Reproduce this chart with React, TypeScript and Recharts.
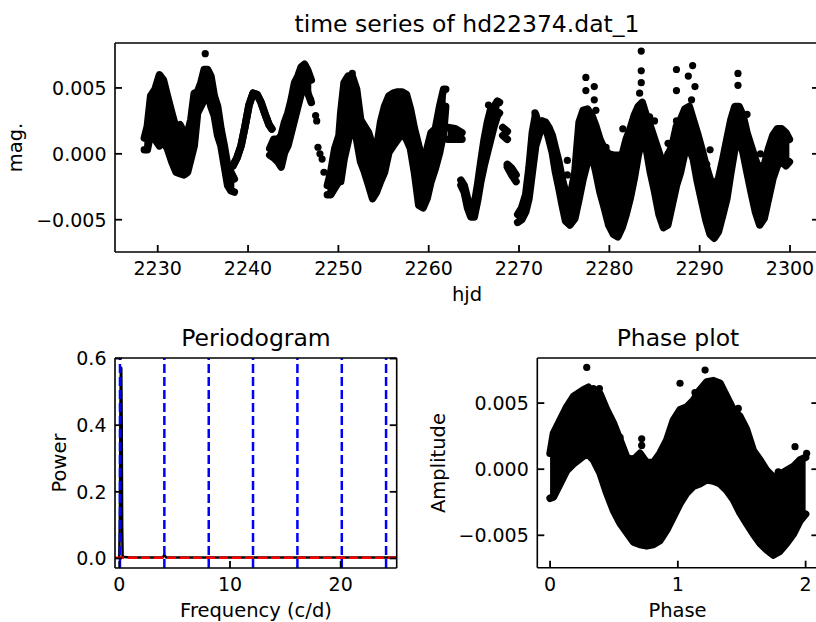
import React from 'react'
import {
  ComposedChart,
  XAxis,
  YAxis,
  Area,
  Scatter,
  Line,
  ReferenceLine,
} from 'recharts'

// [hjd, lower mag, upper mag] read along each run of the light curve
type Band = [number, number, number]
type Pt = [number, number]

const runA: Band[] = [
  [2228.52, 0.0003, 0.0012], [2228.85, 0.0003, 0.0021], [2229.22, 0.0016, 0.0044],
  [2229.7, 0.0011, 0.0049], [2230.19, 0.0006, 0.006], [2230.63, 0.0009, 0.0056],
  [2231.07, 0.0004, 0.0044], [2231.56, -0.0006, 0.0031], [2232.04, -0.0014, 0.0019],
  [2232.48, -0.0015, 0.0022], [2232.93, -0.0016, 0.0014], [2233.3, -0.0014, 0.0016],
  [2233.67, -0.0004, 0.0026], [2234.04, 0.0006, 0.0046], [2234.41, 0.0031, 0.0047],
  [2234.78, 0.0036, 0.0054], [2235.15, 0.0041, 0.0064], [2235.52, 0.0046, 0.0064],
  [2235.89, 0.0036, 0.0059], [2236.26, 0.0029, 0.0044], [2236.63, 0.0014, 0.0036],
  [2237.0, 0.0006, 0.0019], [2237.37, -0.0009, 0.0006], [2237.74, -0.0024, -0.0009],
  [2238.1, -0.0028, -0.0014], [2238.48, -0.0029, -0.0019],
]
const runB: Band[] = [
  [2238.33, -0.0009, -0.0009], [2238.78, -0.0003, -0.0003], [2239.22, 0.0006, 0.0006],
  [2239.67, 0.0021, 0.0021], [2240.11, 0.0037, 0.0037], [2240.56, 0.0046, 0.0046],
  [2241.0, 0.0045, 0.0045], [2241.44, 0.0039, 0.0039], [2241.89, 0.003, 0.003],
  [2242.33, 0.0022, 0.0022], [2242.63, 0.0019, 0.0019],
]
const runC: Band[] = [
  [2242.4, -0.0001, 0.0004], [2242.85, -0.0003, 0.0011], [2243.3, -0.0006, 0.0011],
  [2243.67, -0.001, 0.0014], [2244.04, 0.0001, 0.0024], [2244.41, 0.0006, 0.0031],
  [2244.78, 0.0016, 0.0041], [2245.15, 0.0026, 0.0054], [2245.52, 0.0036, 0.0059],
  [2245.89, 0.0046, 0.0066], [2246.26, 0.0054, 0.0068], [2246.63, 0.0046, 0.0063],
  [2247.0, 0.0039, 0.0056],
]
const runD: Band[] = [
  [2248.78, -0.0031, -0.0024], [2249.15, -0.0031, -0.0014], [2249.6, -0.0026, 0.0004],
  [2250.07, -0.0021, 0.0014], [2250.26, -0.0021, 0.0031], [2250.63, -0.0004, 0.0054],
  [2251.07, 0.0009, 0.0059], [2251.54, 0.0024, 0.0059], [2252.02, 0.0011, 0.0049],
  [2252.46, -0.0006, 0.0026], [2252.9, -0.0014, 0.0021], [2253.35, -0.0024, 0.0016],
  [2253.79, -0.0034, 0.0006], [2254.23, -0.0029, 0.0004], [2254.67, -0.0021, 0.0024],
  [2255.11, -0.0014, 0.0036], [2255.59, 0.0001, 0.0044], [2256.07, 0.0006, 0.0046],
  [2256.58, 0.0011, 0.0047], [2257.06, 0.0016, 0.0047], [2257.54, 0.0011, 0.0045],
  [2257.98, 0.0004, 0.0034], [2258.42, -0.0014, 0.0019], [2258.9, -0.0039, 0.0006],
  [2259.38, -0.0041, -0.0009], [2259.82, -0.0034, 0.0004], [2260.26, -0.0021, 0.0016],
  [2260.74, -0.0011, 0.0019], [2261.21, 0.0001, 0.0036], [2261.65, 0.0016, 0.0049],
  [2261.88, 0.0036, 0.0049],
]
const runE: Band[] = [
  [2262.1, 0.0011, 0.002], [2262.94, 0.0011, 0.0019], [2263.68, 0.0011, 0.0016],
]
const runF: Band[] = [
  [2263.57, -0.0024, -0.002], [2263.93, -0.0029, -0.0024], [2264.3, -0.0041, -0.0034],
  [2264.67, -0.0048, -0.0041], [2265.04, -0.0048, -0.0039], [2265.4, -0.0036, -0.0024],
  [2265.77, -0.0021, -0.0006], [2266.14, -0.0009, 0.0011], [2266.5, 0.0001, 0.0024],
  [2266.87, 0.0011, 0.0034], [2267.24, 0.0021, 0.0036], [2267.61, 0.0029, 0.004],
  [2267.83, 0.0031, 0.0039],
]
const runG: Band[] = [[2268.2, 0.0014, 0.002], [2268.7, 0.0011, 0.0017]]
const runH: Band[] = [[2268.71, -0.001, -0.0008], [2269.19, -0.0016, -0.0011], [2269.67, -0.0021, -0.0016]]
const runI: Band[] = [
  [2269.85, -0.0052, -0.0046], [2270.29, -0.005, -0.0041], [2270.74, -0.0044, -0.0031],
  [2271.1, -0.0034, -0.0011], [2271.47, -0.0014, 0.0016], [2271.84, 0.0006, 0.003],
  [2272.2, 0.0014, 0.0021], [2272.57, 0.0021, 0.0025], [2272.94, 0.002, 0.0024],
  [2273.31, 0.0011, 0.002], [2273.68, 0.0001, 0.0014], [2274.04, -0.0014, 0.0004],
  [2274.41, -0.0026, -0.0006], [2274.78, -0.0039, -0.0019], [2275.15, -0.0051, -0.0029],
  [2275.63, -0.0054, -0.0034], [2276.18, -0.0049, -0.0014], [2276.65, -0.0034, 0.0024],
  [2277.1, -0.0019, 0.0033], [2277.58, -0.0006, 0.0034], [2278.07, -0.0001, 0.0029],
  [2278.51, -0.0014, 0.0021], [2278.96, -0.0029, 0.0011], [2279.44, -0.0041, 0.0004],
  [2279.93, -0.0054, 0.0], [2280.45, -0.0061, -0.0001], [2280.93, -0.0063, -0.0001],
  [2281.41, -0.0056, -0.0001], [2281.86, -0.0046, 0.0011], [2282.3, -0.0034, 0.0019],
  [2282.75, -0.0019, 0.0029], [2283.2, -0.0001, 0.0036], [2283.64, 0.0011, 0.0039],
  [2284.09, 0.0004, 0.0029], [2284.54, -0.0014, 0.0021], [2285.02, -0.0029, 0.0011],
  [2285.5, -0.0046, 0.0001], [2285.99, -0.0056, -0.0009], [2286.47, -0.0054, -0.0001],
  [2286.95, -0.0039, 0.0006], [2287.43, -0.0024, 0.0021], [2287.88, -0.0014, 0.0026],
  [2288.36, 0.0001, 0.0034], [2288.85, 0.0004, 0.0036], [2289.29, -0.0004, 0.0026],
  [2289.74, -0.0021, 0.0016], [2290.22, -0.0036, 0.0004], [2290.71, -0.0051, -0.0009],
  [2291.15, -0.0061, -0.0019], [2291.6, -0.0064, -0.0024], [2292.08, -0.0059, -0.0019],
  [2292.57, -0.0046, -0.0004], [2293.01, -0.0034, 0.0011], [2293.46, -0.0014, 0.0026],
  [2293.9, 0.0004, 0.0036], [2294.35, 0.0011, 0.0036], [2294.8, 0.0001, 0.0029],
  [2295.24, -0.0014, 0.0016], [2295.69, -0.0029, 0.0006], [2296.17, -0.0044, -0.0004],
  [2296.65, -0.0054, -0.0014], [2297.14, -0.0049, -0.0009], [2297.62, -0.0034, 0.0004],
  [2298.1, -0.0019, 0.0014], [2298.59, -0.0009, 0.0019], [2299.07, -0.0006, 0.0019],
  [2299.55, -0.0009, 0.0016], [2299.93, -0.0006, 0.0011],
]
const runs = [runA, runB, runC, runD, runE, runF, runG, runH, runI]

// isolated observations off the main runs
const strayObs: Pt[] = [
  [2235.26, 0.0076], [2232.6, 0.002], [2246.93, 0.0041], [2247.48, 0.0029], [2247.6, 0.0025],
  [2247.74, 0.0005], [2247.96, 0.0], [2248.2, -0.0004], [2248.4, -0.0014], [2251.54, 0.0061],
  [2266.62, 0.0037], [2271.76, 0.0031], [2277.4, 0.0058], [2277.4, 0.0048], [2278.33, 0.0051],
  [2278.33, 0.0041], [2278.51, 0.0033], [2283.53, 0.0078], [2283.53, 0.0063], [2283.53, 0.0054],
  [2283.35, 0.0046], [2281.49, 0.0019], [2284.46, 0.0028], [2285.0, 0.0025], [2287.43, 0.0064],
  [2287.43, 0.0048], [2287.43, 0.0025], [2287.43, 0.0011], [2286.5, 0.0008], [2286.5, 0.0],
  [2286.5, -0.0006], [2288.74, 0.0059], [2289.22, 0.0067], [2289.48, 0.0051], [2289.1, 0.0041],
  [2291.15, 0.0003], [2290.78, -0.0008], [2294.24, 0.0061], [2294.24, 0.0052], [2295.24, 0.003],
  [2296.73, 0.0], [2296.91, -0.0009], [2279.63, 0.0005], [2275.35, -0.0005], [2275.35, -0.0016],
]

const hjdTicks = [2230, 2240, 2250, 2260, 2270, 2280, 2290, 2300]
const magTicks = [-0.005, 0, 0.005]

// periodogram
const freq = [0, 0.06, 0.1, 0.14, 0.18, 0.22, 0.26, 0.3, 0.5, 1, 2, 3, 3.9, 4.07, 4.25, 5, 6, 8, 10, 12, 14, 16, 18, 20, 22, 24, 25.06]
const power = [0.004, 0.15, 0.45, 0.575, 0.57, 0.4, 0.1, 0.006, 0.004, 0.003, 0.003, 0.003, 0.003, 0.01, 0.003, 0.003, 0.003, 0.003, 0.003, 0.003, 0.003, 0.003, 0.003, 0.003, 0.003, 0.003, 0.003]
const aliasFreqs = [0.06, 4.07, 8.08, 12.08, 16.09, 20.1, 24.1]
const noiseLevel = 0.002
const freqTicks = [0, 10, 20]
const powerTicks = [0, 0.2, 0.4, 0.6]

// phase plot: [phase, lower, upper] envelope of the folded cloud
const phaseBand: Band[] = [
  [0.0, -0.0022, 0.0012], [0.026, -0.0021, 0.0027], [0.078, -0.0011, 0.0037], [0.13, -0.0001, 0.0047],
  [0.183, 0.0004, 0.0055], [0.261, 0.001, 0.006], [0.3, 0.0011, 0.0062], [0.339, 0.0007, 0.0056],
  [0.391, -0.0003, 0.0057], [0.443, -0.0018, 0.0045], [0.495, -0.0031, 0.0035], [0.548, -0.0041, 0.0022],
  [0.6, -0.0048, 0.0009], [0.652, -0.0055, 0.0007], [0.704, -0.0057, 0.0012], [0.756, -0.0058, 0.0005],
  [0.808, -0.0057, 0.0005], [0.86, -0.0054, 0.0012], [0.913, -0.0046, 0.0022], [0.965, -0.0036, 0.0037],
  [1.017, -0.0026, 0.0045], [1.069, -0.0018, 0.0047], [1.121, -0.0013, 0.0052], [1.173, -0.0011, 0.006],
  [1.226, -0.0008, 0.0066], [1.278, -0.0009, 0.0067], [1.33, -0.0011, 0.0065], [1.382, -0.0016, 0.0055],
  [1.434, -0.0023, 0.0045], [1.486, -0.0033, 0.004], [1.538, -0.0041, 0.003], [1.591, -0.0049, 0.0014],
  [1.643, -0.0056, 0.0007], [1.695, -0.0061, -0.0001], [1.747, -0.0065, -0.0006], [1.799, -0.0062, -0.0004],
  [1.851, -0.0056, -0.0001], [1.904, -0.0049, 0.0002], [1.956, -0.0039, 0.0007], [2.0, -0.0034, 0.0009],
]
const phaseStray: Pt[] = [
  [0.287, 0.0077], [0.339, 0.0061], [0.386, 0.0061], [0.482, 0.0037], [0.548, 0.0024],
  [0.717, 0.0023], [0.717, 0.0018], [1.017, 0.0065], [1.134, 0.0058], [1.213, 0.0075],
  [1.473, 0.0046], [1.786, -0.0002], [1.917, 0.0017], [2.008, 0.0012],
]
const phaseTicks = [0, 1, 2]

const FONT = "'DejaVu Sans', sans-serif"
const frame = { stroke: '#000', strokeWidth: 1.6 }
const TICK_LEN = 7
const fmtMag = (v: number) => (v < 0 ? '\u2212' : '') + Math.abs(v).toFixed(3)
const fmtPow = (v: number) => v.toFixed(1)
const fmtInt = (v: number) => String(v)

const Dot = (p: any) => <circle cx={p.cx} cy={p.cy} r={3.6} fill="#000" />

const bandRows = (b: Band[]) => b.map(([x, lo, hi]) => ({ x, range: [lo, hi] }))
const ptRows = (p: Pt[]) => p.map(([x, y]) => ({ x, y }))

type Side = 'bottom' | 'top' | 'left' | 'right'

// inward tick mark (matplotlib direction='in') plus an optional label outside the spine
function inwardTick(side: Side, edge: number, fmt?: (v: number) => string) {
  return (p: any) => {
    const v = p.payload.value
    if (side === 'bottom' || side === 'top') {
      const x = p.x
      const dir = side === 'bottom' ? -1 : 1
      return (
        <g>
          <line x1={x} x2={x} y1={edge} y2={edge + dir * TICK_LEN} stroke="#000" strokeWidth={1.8} />
          {fmt && (
            <text x={x} y={edge + 23} textAnchor="middle" style={{ fontSize: 19 }} fill="#000">{fmt(v)}</text>
          )}
        </g>
      )
    }
    const y = p.y
    const dir = side === 'left' ? 1 : -1
    return (
      <g>
        <line x1={edge} x2={edge + dir * TICK_LEN} y1={y} y2={y} stroke="#000" strokeWidth={1.8} />
        {fmt && (
          <text x={edge - 8.5} y={y} dy="0.36em" textAnchor="end" style={{ fontSize: 19 }} fill="#000">{fmt(v)}</text>
        )}
      </g>
    )
  }
}

interface Frame {
  xDomain: number[]
  xTicks: number[]
  yDomain: number[]
  yTicks: number[]
  xFmt: (v: number) => string
  yFmt: (v: number) => string
  yWidth: number
  xHeight: number
  // plot edges in the chart's own pixels
  left: number
  right: number
  top: number
  bottom: number
}

// four framed axes, ticks on every side, labels only on bottom/left
function frameAxes(f: Frame) {
  return [
    <XAxis key="xb" xAxisId="b" dataKey="x" type="number" domain={f.xDomain} allowDataOverflow ticks={f.xTicks}
      interval={0} height={f.xHeight} axisLine={frame} tickLine={false} tick={inwardTick('bottom', f.bottom, f.xFmt)} />,
    <XAxis key="xt" xAxisId="t" orientation="top" type="number" domain={f.xDomain} allowDataOverflow ticks={f.xTicks}
      interval={0} height={1} axisLine={frame} tickLine={false} tick={inwardTick('top', f.top)} />,
    <YAxis key="yl" yAxisId="l" dataKey="y" type="number" domain={f.yDomain} allowDataOverflow ticks={f.yTicks}
      interval={0} width={f.yWidth} axisLine={frame} tickLine={false} tick={inwardTick('left', f.left, f.yFmt)} />,
    <YAxis key="yr" yAxisId="r" orientation="right" type="number" domain={f.yDomain} allowDataOverflow ticks={f.yTicks}
      interval={0} width={1} axisLine={frame} tickLine={false} tick={inwardTick('right', f.right)} />,
  ]
}

function TimeSeries() {
  return (
    <ComposedChart width={830} height={320} margin={{ top: 42, right: 10, bottom: 0, left: 0 }}>
      {frameAxes({
        xDomain: [2225.27, 2303.21], xTicks: hjdTicks, yDomain: [-0.00745, 0.00841], yTicks: magTicks,
        xFmt: fmtInt, yFmt: fmtMag, yWidth: 115, xHeight: 68, left: 115, right: 819, top: 43, bottom: 252,
      })}
      {runs.map((run, i) => (
        <Area key={i} xAxisId="b" yAxisId="l" data={bandRows(run)} dataKey="range" type="linear"
          stroke="#000" strokeWidth={7.5} strokeLinejoin="round" strokeLinecap="round"
          fill="#000" fillOpacity={1} dot={false} activeDot={false} isAnimationActive={false} />
      ))}
      <Scatter xAxisId="b" yAxisId="l" data={ptRows(strayObs)} shape={Dot} isAnimationActive={false} />
    </ComposedChart>
  )
}

function Periodogram() {
  const rows = freq.map((x, i) => ({ x, y: power[i] }))
  return (
    <ComposedChart width={420} height={322} margin={{ top: 57, right: 22.3, bottom: 0, left: 0 }}>
      {frameAxes({
        xDomain: [-0.388, 25.06], xTicks: freqTicks, yDomain: [-0.0287, 0.6017], yTicks: powerTicks,
        xFmt: fmtInt, yFmt: fmtPow, yWidth: 115, xHeight: 54, left: 115, right: 396.7, top: 58, bottom: 268,
      })}
      <Line xAxisId="b" yAxisId="l" data={rows} dataKey="y" type="linear" stroke="#000" strokeWidth={2.5}
        dot={false} activeDot={false} isAnimationActive={false} />
      <ReferenceLine xAxisId="b" yAxisId="l" y={noiseLevel} stroke="#ff0000" strokeWidth={2.5} strokeDasharray="9 4" />
      {aliasFreqs.map(f => (
        <ReferenceLine key={f} xAxisId="b" yAxisId="l" x={f} stroke="#0000ff" strokeWidth={2.5} strokeDasharray="9 4" />
      ))}
    </ComposedChart>
  )
}

function PhasePlot() {
  return (
    <ComposedChart width={410} height={322} margin={{ top: 57, right: 10.6, bottom: 0, left: 0 }}>
      {frameAxes({
        xDomain: [-0.1, 2.1], xTicks: phaseTicks, yDomain: [-0.00745, 0.00841], yTicks: magTicks,
        xFmt: fmtInt, yFmt: fmtMag, yWidth: 117.3, xHeight: 54.3, left: 117.3, right: 398.4, top: 58, bottom: 267.7,
      })}
      <Area xAxisId="b" yAxisId="l" data={bandRows(phaseBand)} dataKey="range" type="linear"
        stroke="#000" strokeWidth={7.5} strokeLinejoin="round" strokeLinecap="round"
        fill="#000" fillOpacity={1} dot={false} activeDot={false} isAnimationActive={false} />
      <Scatter xAxisId="b" yAxisId="l" data={ptRows(phaseStray)} shape={Dot} isAnimationActive={false} />
    </ComposedChart>
  )
}

export default function App() {
  return (
    <div style={{ position: 'absolute', left: 0, top: 0, width: 816, height: 622, overflow: 'hidden', background: '#fff', fontFamily: FONT }}>
      <div style={{ position: 'absolute', left: 0, top: 0 }}><TimeSeries /></div>
      <div style={{ position: 'absolute', left: 0, top: 300 }}><Periodogram /></div>
      <div style={{ position: 'absolute', left: 420, top: 300 }}><PhasePlot /></div>
      <svg width={816} height={622} style={{ position: 'absolute', left: 0, top: 0, pointerEvents: 'none' }}
        fontFamily={FONT} fill="#000">
        <text x={467} y={31.5} fontSize={23.5} textAnchor="middle">time series of hd22374.dat_1</text>
        <text x={467} y={301} fontSize={19.5} textAnchor="middle">hjd</text>
        <text x={21.5} y={147.5} fontSize={19.5} textAnchor="middle" transform="rotate(-90 21.5 147.5)">mag.</text>
        <text x={256} y={346} fontSize={23.5} textAnchor="middle">Periodogram</text>
        <text x={66} y={463} fontSize={19.5} textAnchor="middle" transform="rotate(-90 66 463)">Power</text>
        <text x={256} y={617} fontSize={19.5} textAnchor="middle">Frequency (c/d)</text>
        <text x={678} y={346} fontSize={23.5} textAnchor="middle">Phase plot</text>
        <text x={445} y={463} fontSize={19.5} textAnchor="middle" transform="rotate(-90 445 463)">Amplitude</text>
        <text x={677.5} y={617} fontSize={19.5} textAnchor="middle">Phase</text>
      </svg>
    </div>
  )
}
